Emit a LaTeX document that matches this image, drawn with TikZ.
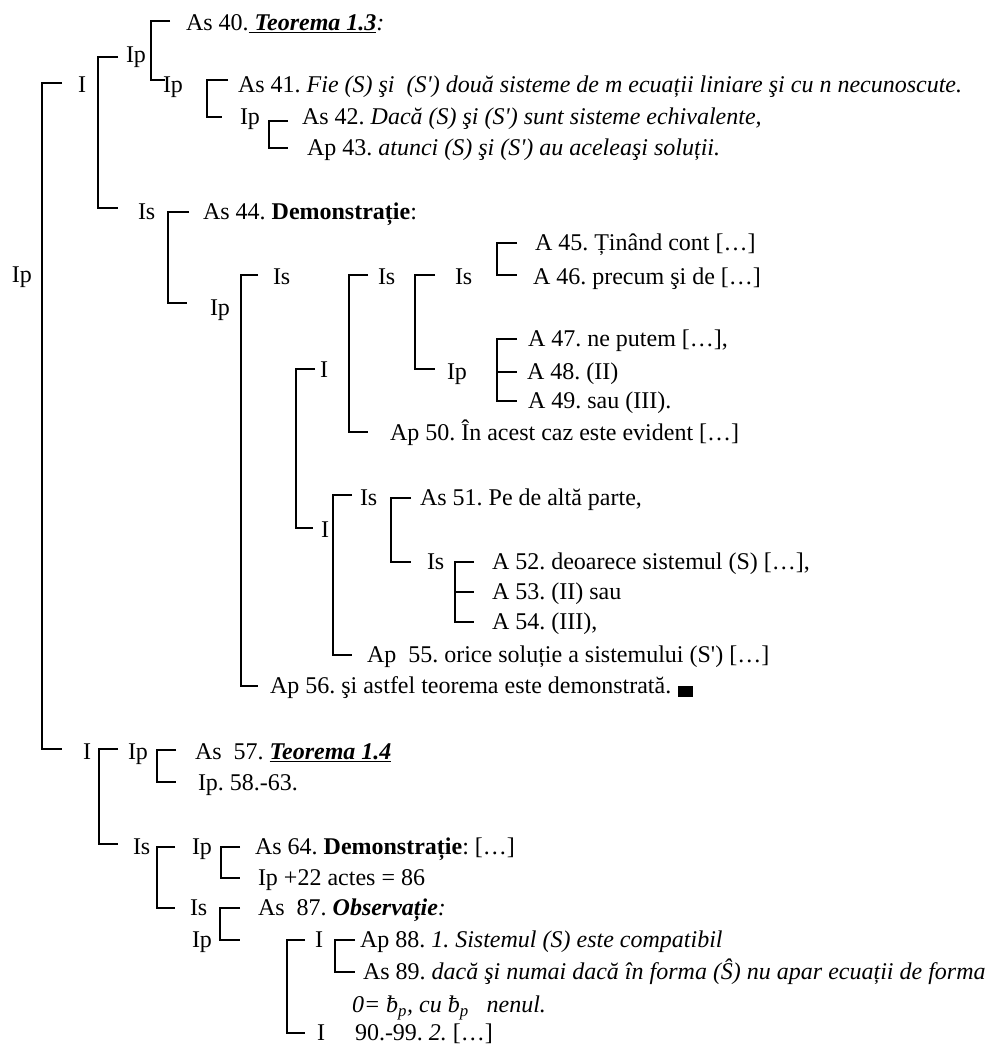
\documentclass[tikz,border=0pt]{standalone}
\usepackage{fontspec}
\setmainfont{Liberation Serif}
\newcommand\qq{\textquotesingle}
\begin{document}
\frenchspacing
\begin{tikzpicture}[x=1pt,y=-1pt,
  txt/.style={anchor=base west,inner sep=0pt,outer sep=0pt,yshift=-7.9pt,font=\fontsize{24}{29}\selectfont},
  brk/.style={line width=1.6pt,line join=miter}]
\useasboundingbox (0,0) rectangle (997,1050);
\newcommand\brk[4]{\draw[brk] (#1+#4,#2) -| (#1,#3) -- (#1+#4,#3);}
\newcommand\tick[3]{\draw[brk] (#1,#2) -- (#1+#3,#2);}
% ---------- texts ----------
\node[txt] (ip0) at (12,275) {Ip};
\node[txt] (i1) at (78,85) {I};
\node[txt] (ip1) at (126,55) {Ip};
\node[txt] (as40) at (186,23) {As 40.\underline{\textbf{\textit{ Teorema 1.3}}}\textit{:}};
\node[txt] (ip2) at (163,85) {Ip};
\node[txt] (as41) at (238,85) {As 41. \textit{Fie (S) şi \ (S\qq) două sisteme de m ecuații liniare şi cu n necunoscute.}};
\node[txt] (ip3) at (240,117) {Ip};
\node[txt] (as42) at (302,117) {As 42. \textit{Dacă (S) şi (S\qq) sunt sisteme echivalente,}};
\node[txt] (ap43) at (307,148) {Ap 43. \textit{atunci (S) şi (S\qq) au aceleaşi soluții.}};
\node[txt] (is1) at (138,212) {Is};
\node[txt] (as44) at (203,212) {As 44. \textbf{Demonstrație}:};
\node[txt] (ip4) at (210,308) {Ip};
\node[txt] (is2) at (273,277) {Is};
\node[txt] (is3) at (378,277) {Is};
\node[txt] (is4) at (455,277) {Is};
\node[txt] (a45) at (535,243) {A 45. Ținând cont […]};
\node[txt] (a46) at (533,277) {A 46. precum şi de […]};
\node[txt] (a47) at (528,339) {A 47. ne putem […],};
\node[txt] (ip5) at (447,372) {Ip};
\node[txt] (a48) at (527,372) {A 48. (II)};
\node[txt] (a49) at (528,401) {A 49. sau (III).};
\node[txt] (i2) at (320,370) {I};
\node[txt] (ap50) at (390,433) {Ap 50. În acest caz este evident […]};
\node[txt] (is5) at (360,498) {Is};
\node[txt] (as51) at (420,498) {As 51. Pe de altă parte,};
\node[txt] (i3) at (321,530) {I};
\node[txt] (is6) at (427,562) {Is};
\node[txt] (a52) at (492,562) {A 52. deoarece sistemul (S) […],};
\node[txt] (a53) at (492,592) {A 53. (II) sau};
\node[txt] (a54) at (492,622) {A 54. (III),};
\node[txt] (ap55) at (367,655) {Ap \ 55. orice soluție a sistemului (S\qq) […]};
\node[txt] (ap56) at (270,686) {Ap 56. şi astfel teorema este demonstrată.};
\fill ([xshift=7pt,yshift=-3pt]ap56.base east) rectangle ++(15,-11);
\node[txt] (i4) at (83,752) {I};
\node[txt] (ip6) at (128,752) {Ip};
\node[txt] (as57) at (195,752) {As \ 57. \underline{\textbf{\textit{Teorema 1.4}}}};
\node[txt] (ip58) at (198,783) {Ip. 58.-63.};
\node[txt] (is7) at (133,847) {Is};
\node[txt] (ip7) at (192,847) {Ip};
\node[txt] (as64) at (255,847) {As 64. \textbf{Demonstrație}: […]};
\node[txt] (ip22) at (258,878) {Ip +22 actes = 86};
\node[txt] (is8) at (190,908) {Is};
\node[txt] (as87) at (258,908) {As \ 87. \textbf{\textit{Observație}}\textit{:}};
\node[txt] (ip8) at (192,940) {Ip};
\node[txt] (i5) at (315,940) {I};
\node[txt] (ap88) at (360,940) {Ap 88. \textit{1. Sistemul (S) este compatibil}};
\node[txt] (as89) at (363,972) {As 89. \textit{dacă şi numai dacă în forma (Ŝ) nu apar ecuații de forma}};
\node[txt] (zero) at (352,1005) {\textit{0= ƀ\textsubscript{p}, cu ƀ\textsubscript{p} \ \ nenul.}};
\node[txt] (i6) at (317,1033) {I};
\node[txt] (n90) at (355,1033) {90.-99. \textit{2.} […]};
% ---------- brackets ----------
\brk{42}{83}{749}{20}
\brk{98}{57}{208}{20}
\draw[brk] (170,21) -| (151,80) -- (165,80);
\draw[brk] (228,80) -| (207,117) -- (222,117);
\brk{269}{121}{148}{19}
\draw[brk] (189,212) -| (168,303) -- (187,303);
\brk{241}{275}{686}{17}
\brk{349}{275}{432}{19}
\draw[brk] (315,369) -| (296,528) -- (313,528);
\brk{415}{275}{369}{20}
\brk{497}{243}{275}{20}
\brk{497}{339}{401}{20}
\tick{497}{372}{20}
\brk{333}{495}{655}{19}
\brk{391}{498}{562}{20}
\brk{455}{562}{622}{19}
\tick{455}{592}{19}
\brk{99}{749}{844}{19}
\brk{157}{750}{782}{19}
\brk{157}{847}{908}{18}
\brk{221}{847}{878}{19}
\brk{220}{908}{940}{20}
\brk{287}{940}{1033}{18}
\brk{335}{940}{972}{20}
\end{tikzpicture}
\end{document}
